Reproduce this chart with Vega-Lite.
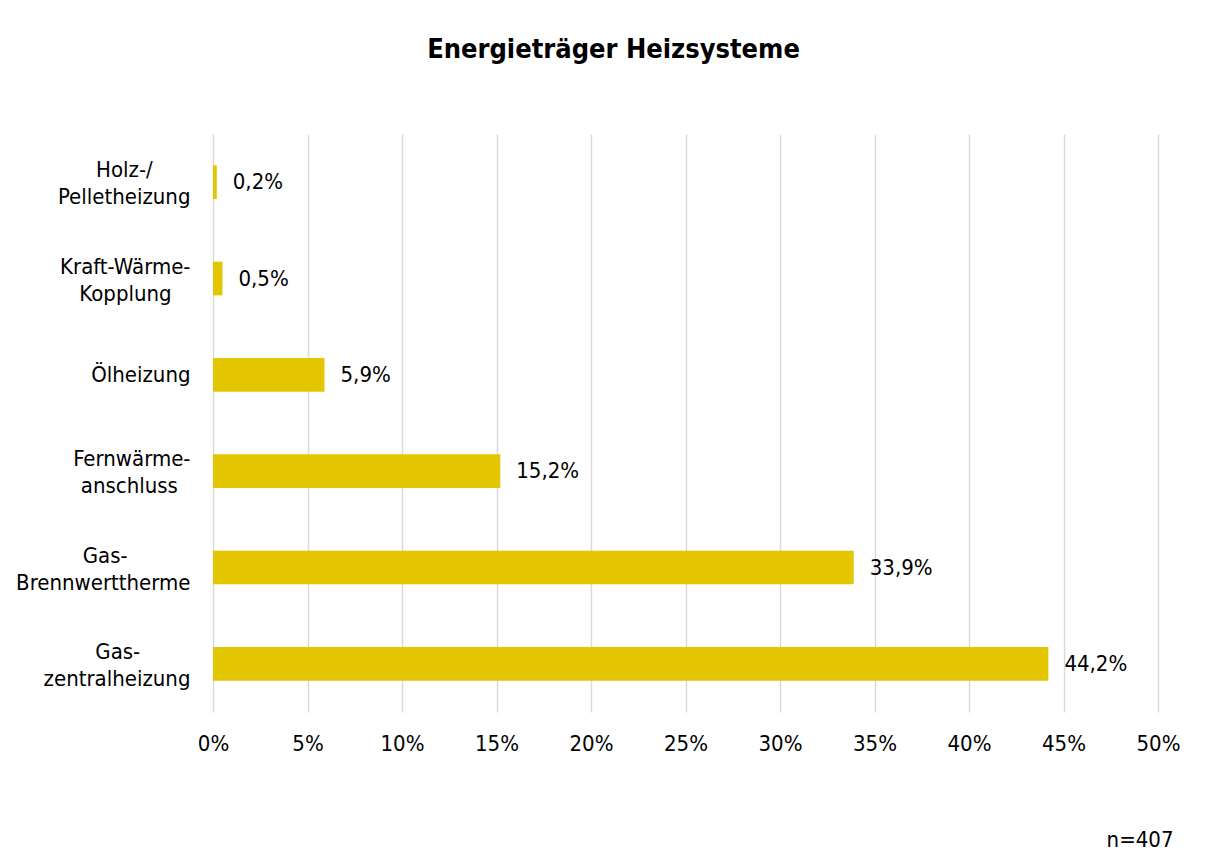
{
  "$schema": "https://vega.github.io/schema/vega-lite/v6.json",
  "width": 945,
  "height": 578,
  "autosize": {"type": "none"},
  "padding": {"left": 213, "top": 134, "right": 54, "bottom": 153},
  "background": "white",
  "config": {
    "locale": {"number": {"decimal": ",", "thousands": ".", "grouping": [3], "currency": ["", " €"]}},
    "font": "Liberation Sans Narrow, DejaVu Sans Condensed, sans-serif",
    "view": {"stroke": null}
  },
  "title": {
    "text": "Energieträger Heizsysteme",
    "fontSize": 27,
    "fontWeight": "bold",
    "color": "#000000",
    "anchor": "middle",
    "frame": "group",
    "dx": -72,
    "offset": 70
  },
  "data": {
    "values": [
      {"kategorie": "Holz-/\u00a0\u00a0\u00a0\u00a0\u00a0\u00a0\u200b\nPelletheizung", "anteil": 0.002},
      {"kategorie": "Kraft-Wärme-\nKopplung\u00a0\u00a0\u00a0\u200b", "anteil": 0.005},
      {"kategorie": "Ölheizung", "anteil": 0.059},
      {"kategorie": "Fernwärme-\nanschluss\u00a0\u00a0\u200b", "anteil": 0.152},
      {"kategorie": "Gas-\u00a0\u00a0\u00a0\u00a0\u00a0\u00a0\u00a0\u00a0\u00a0\u00a0\u200b\nBrennwerttherme", "anteil": 0.339},
      {"kategorie": "Gas-\u00a0\u00a0\u00a0\u00a0\u00a0\u00a0\u00a0\u00a0\u200b\nzentralheizung", "anteil": 0.442}
    ]
  },
  "encoding": {
    "y": {
      "field": "kategorie",
      "type": "nominal",
      "sort": null,
      "scale": {"paddingInner": 0.65, "paddingOuter": 0.325},
      "axis": {
        "title": null,
        "labelExpr": "split(datum.label, '\\n')",
        "labelFontSize": 22,
        "labelColor": "#000000",
        "labelAlign": "right",
        "labelPadding": 23,
        "labelLineHeight": 27,
        "ticks": false,
        "domain": false,
        "labelLimit": 300,
        "labelOffset": {
          "condition": {"test": "indexof(datum.value, 'Öl') >= 0", "value": 0},
          "value": -12
        }
      }
    },
    "x": {
      "field": "anteil",
      "type": "quantitative",
      "scale": {"domain": [0, 0.5], "nice": false},
      "axis": {
        "format": ".0%",
        "values": [0, 0.05, 0.1, 0.15, 0.2, 0.25, 0.3, 0.35, 0.4, 0.45, 0.5],
        "grid": true,
        "gridColor": "#d9d9d9",
        "gridWidth": 1.5,
        "domain": false,
        "ticks": false,
        "labelFlush": false,
        "labelFontSize": 22,
        "labelColor": "#000000",
        "labelPadding": 21,
        "title": "n=407",
        "titleFontSize": 22,
        "titleFontWeight": "normal",
        "titleColor": "#000000",
        "titleX": 960,
        "titleY": 134,
        "titleAlign": "right",
        "titleBaseline": "alphabetic"
      }
    }
  },
  "layer": [
    {"mark": {"type": "bar", "color": "#E3C600"}},
    {
      "mark": {"type": "text", "align": "left", "dx": 16, "fontSize": 22, "color": "#000000"},
      "encoding": {"text": {"field": "anteil", "type": "quantitative", "format": ".1%"}}
    }
  ]
}
